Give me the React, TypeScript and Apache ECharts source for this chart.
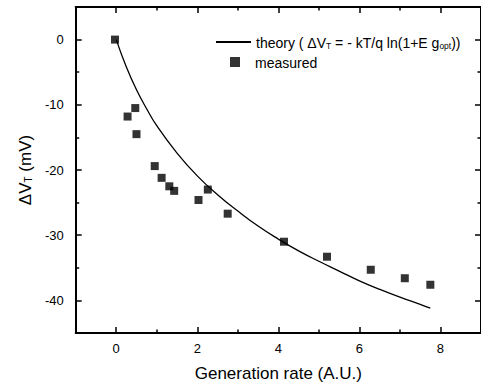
import React, { useEffect, useRef } from "react";
import * as echarts from "echarts";

// Measured data points
const measuredX = [-0.03, 0.28, 0.47, 0.5, 0.95, 1.12, 1.31, 1.43, 2.03, 2.26, 2.75, 4.14, 5.2, 6.28, 7.12, 7.75];
const measuredY = [0, -11.8, -10.5, -14.5, -19.4, -21.2, -22.5, -23.2, -24.6, -23.0, -26.7, -31.0, -33.3, -35.3, -36.6, -37.6];

// Theory curve
const theoryX = [0, 0.25, 0.5, 0.75, 1, 1.5, 2, 2.5, 3, 3.5, 4, 4.5, 5, 5.5, 6, 6.5, 7, 7.5, 7.75];
const theoryY = [0, -4.2, -7.7, -10.6, -13.2, -17.4, -20.9, -23.8, -26.3, -28.6, -30.6, -32.4, -34.0, -35.5, -37.0, -38.3, -39.5, -40.6, -41.2];

// Axis ticks
const xMajor = [0, 2, 4, 6, 8];
const xMinor = [1, 3, 5, 7];
const yMajor = [-40, -30, -20, -10, 0];
const yMinor = [-35, -25, -15, -5];

const FONT = "'Liberation Sans', Arial, Helvetica, sans-serif";

function axisBase(kind: "x" | "y", position: string, ticks: number[], len: number, showLine: boolean, labels: boolean) {
  const range = kind === "x" ? { min: -1, max: 9 } : { min: -45, max: 5 };
  return {
    type: "value",
    position,
    ...range,
    splitLine: { show: false },
    axisLine: { show: showLine, onZero: false, lineStyle: { color: "#000", width: 2 } },
    axisTick: { show: true, inside: true, length: len, customValues: ticks, lineStyle: { color: "#000", width: 1.5 } },
    axisLabel: labels
      ? { show: true, customValues: ticks, color: "#000", fontSize: 13, fontFamily: FONT, margin: kind === "x" ? 9 : 12 }
      : { show: false },
  };
}

const legendRich = {
  a: { fontSize: 14, fontFamily: FONT, color: "#000", verticalAlign: "bottom", lineHeight: 16 },
  s: { fontSize: 8.5, fontFamily: FONT, color: "#000", verticalAlign: "bottom", lineHeight: 7 },
};

export default function App() {
  const ref = useRef<HTMLDivElement>(null);
  useEffect(() => {
    document.body.style.margin = "0";
    const chart = echarts.init(ref.current!, undefined, { renderer: "svg" });
    const option: any = {
      animation: false,
      textStyle: { fontFamily: FONT, color: "#000" },
      grid: { left: 75.7, right: -4.7, top: 7, bottom: 49.6 },
      xAxis: [
        {
          ...axisBase("x", "bottom", xMajor, 6, true, true),
          name: "Generation rate (A.U.)",
          nameLocation: "middle",
          nameGap: 32,
          nameTextStyle: { fontSize: 17, color: "#000", fontFamily: FONT },
        },
        axisBase("x", "bottom", xMinor, 3.5, false, false),
        axisBase("x", "top", xMajor, 6, true, false),
        axisBase("x", "top", xMinor, 3.5, false, false),
      ],
      yAxis: [
        {
          ...axisBase("y", "left", yMajor, 6, true, true),
          name: "{a|ΔV}{s|T}{a| (mV)}",
          nameLocation: "middle",
          nameGap: 42,
          nameTextStyle: {
            color: "#000",
            fontFamily: FONT,
            rich: {
              a: { fontSize: 17, fontFamily: FONT, color: "#000", verticalAlign: "bottom", lineHeight: 20 },
              s: { fontSize: 10, fontFamily: FONT, color: "#000", verticalAlign: "bottom", lineHeight: 9 },
            },
          },
        },
        axisBase("y", "left", yMinor, 3.5, false, false),
        axisBase("y", "right", yMajor, 6, true, false),
        axisBase("y", "right", yMinor, 3.5, false, false),
      ],
      legend: [
        {
          left: 210,
          top: 31,
          itemWidth: 35,
          itemHeight: 10,
          data: [{ name: "theory", itemStyle: { opacity: 0, color: "rgba(0,0,0,0)", borderWidth: 0 } }],
          formatter: () => "{a|theory ( ΔV}{s|T}{a| = - kT/q ln(1+E g}{s|opt}{a|))}",
          textStyle: { fontFamily: FONT, color: "#000", fontSize: 14, rich: legendRich },
        },
        {
          left: 225,
          top: 51,
          itemWidth: 10,
          itemHeight: 10,
          data: [{ name: "measured", icon: "rect" }],
          formatter: () => "{a|measured}",
          textStyle: { fontFamily: FONT, color: "#000", fontSize: 14, padding: [0, 0, 0, 10], rich: legendRich },
        },
      ],
      series: [
        {
          name: "theory",
          type: "line",
          smooth: true,
          symbol: "none",
          showSymbol: false,
          xAxisIndex: 0,
          yAxisIndex: 0,
          lineStyle: { color: "#000", width: 1.3 },
          itemStyle: { color: "#000" },
          data: theoryX.map((x, i) => [x, theoryY[i]]),
        },
        {
          name: "measured",
          type: "scatter",
          symbol: "rect",
          symbolSize: 8,
          xAxisIndex: 0,
          yAxisIndex: 0,
          itemStyle: { color: "#000" },
          data: measuredX.map((x, i) => [x, measuredY[i]]),
        },
      ],
    };
    chart.setOption(option);
    return () => chart.dispose();
  }, []);
  return <div ref={ref} style={{ width: 481, height: 387 }} />;
}
